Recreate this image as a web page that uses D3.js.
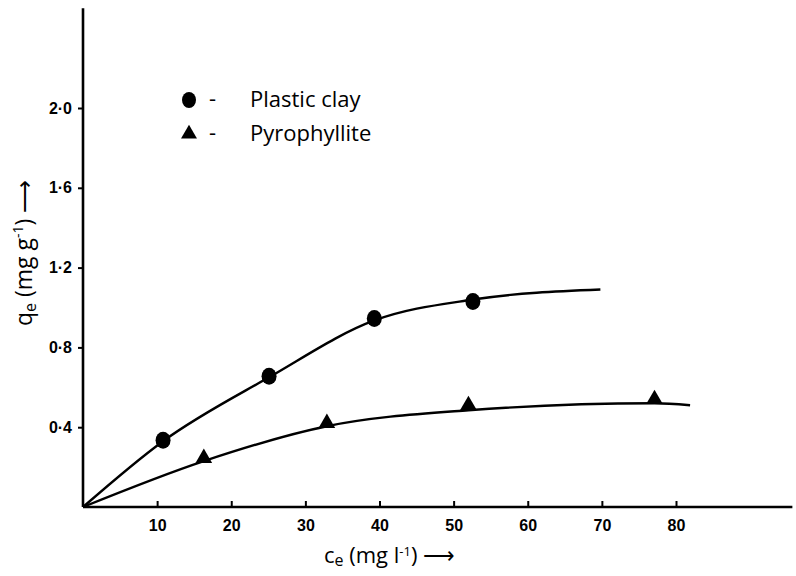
<!DOCTYPE html>
<html>
<head>
<meta charset="utf-8">
<script src="https://cdn.jsdelivr.net/npm/d3@7"></script>
<style>
  body { margin: 0; background: #fff; }
  svg { display: block; font-family: "Open Sans", sans-serif; }
</style>
</head>
<body>
<div id="chart"></div>
<script>
// measured points (Ce, qe)
const clayPoints = [[10.8, 0.335], [25.1, 0.655], [39.3, 0.945], [52.6, 1.03]];
const pyroPoints = [[16.3, 0.245], [32.9, 0.42], [52.0, 0.51], [77.1, 0.54]];
// hand-drawn fitted curves
const clayCurve = [[0, 0], [10.8, 0.33], [25.1, 0.65], [39.3, 0.935], [52.6, 1.04], [69.8, 1.09]];
const pyroCurve = [[0, 0], [16.3, 0.23], [32.9, 0.405], [52.0, 0.485], [77.1, 0.52], [81.9, 0.51]];
const xTicks = [10, 20, 30, 40, 50, 60, 70, 80];
const yTicks = [0.4, 0.8, 1.2, 1.6, 2.0];
const legendItems = [
  { name: 'Plastic clay', symbol: 'circle' },
  { name: 'Pyrophyllite', symbol: 'triangle' }
];

const width = 796;
const height = 576;
const svg = d3.select('#chart').append('svg')
  .attr('width', width)
  .attr('height', height);

const xScale = d3.scaleLinear().domain([0, 80]).range([83, 676]);
const yScale = d3.scaleLinear().domain([0, 2.0]).range([507, 108]);

// axis lines extend past the last tick
svg.append('line')
  .attr('x1', xScale(0)).attr('x2', xScale(95.7))
  .attr('y1', yScale(0)).attr('y2', yScale(0))
  .attr('stroke', '#000').attr('stroke-width', 2.6);
svg.append('line')
  .attr('x1', xScale(0)).attr('x2', xScale(0))
  .attr('y1', yScale(0)).attr('y2', yScale(2.5))
  .attr('stroke', '#000').attr('stroke-width', 2.6);

const xAxis = d3.axisBottom(xScale)
  .tickValues(xTicks)
  .tickSizeInner(-6)
  .tickSizeOuter(0)
  .tickPadding(13)
  .tickFormat(d3.format('d'));
const xAxisG = svg.append('g')
  .attr('transform', `translate(0,${yScale(0)})`)
  .call(xAxis);
xAxisG.select('.domain').remove();
xAxisG.selectAll('line').attr('stroke-width', 2);
xAxisG.selectAll('text').attr('font-size', 16).attr('font-weight', 600).attr('fill', '#000');

const yAxis = d3.axisLeft(yScale)
  .tickValues(yTicks)
  .tickSizeInner(5)
  .tickSizeOuter(0)
  .tickPadding(6)
  .tickFormat(d => d3.format('.1f')(d).replace('.', '·'));
const yAxisG = svg.append('g')
  .attr('transform', `translate(${xScale(0)},0)`)
  .call(yAxis);
yAxisG.select('.domain').remove();
yAxisG.selectAll('line').attr('stroke-width', 2);
yAxisG.selectAll('text').attr('font-size', 16).attr('font-weight', 600).attr('fill', '#000');

// curves
const line = d3.line()
  .x(d => xScale(d[0]))
  .y(d => yScale(d[1]))
  .curve(d3.curveMonotoneX);
[clayCurve, pyroCurve].forEach(c => {
  svg.append('path')
    .attr('d', line(c))
    .attr('fill', 'none')
    .attr('stroke', '#000')
    .attr('stroke-width', 2.4);
});

// markers
svg.selectAll('.clay')
  .data(clayPoints)
  .join('ellipse').attr('class', 'clay')
  .attr('cx', d => xScale(d[0]))
  .attr('cy', d => yScale(d[1]))
  .attr('rx', 7.5).attr('ry', 8.5)
  .attr('fill', '#000');
const tri = d3.symbol().type(d3.symbolTriangle).size(120);
svg.selectAll('.pyro')
  .data(pyroPoints)
  .join('path').attr('class', 'pyro')
  .attr('d', tri)
  .attr('transform', d => `translate(${xScale(d[0])},${yScale(d[1])})`)
  .attr('fill', '#000');

// legend
const legend = svg.append('g').attr('transform', 'translate(189,100)');
legendItems.forEach((s, i) => {
  const row = legend.append('g').attr('transform', `translate(0,${i * 34})`);
  if (s.symbol === 'circle') {
    row.append('ellipse').attr('rx', 7).attr('ry', 8).attr('fill', '#000');
  } else {
    row.append('path').attr('d', d3.symbol().type(d3.symbolTriangle).size(110)).attr('fill', '#000');
  }
  row.append('text')
    .attr('x', 20).attr('y', 6)
    .attr('font-size', 22)
    .text('-');
  row.append('text')
    .attr('x', 61).attr('y', 7)
    .attr('font-size', 22)
    .text(s.name);
});

// axis titles
const yTitle = svg.append('text')
  .attr('transform', 'translate(32,326) rotate(-90)')
  .attr('font-size', 23)
  .attr('text-anchor', 'start');
yTitle.append('tspan').text('q');
yTitle.append('tspan').attr('font-size', 16).attr('dy', 4).text('e');
yTitle.append('tspan').attr('dy', -4).text(' (mg g');
yTitle.append('tspan').attr('font-size', 14).attr('dy', -9).text('-1');
yTitle.append('tspan').attr('dy', 9).text(')   ⟶');

const xTitle = svg.append('text')
  .attr('x', 324).attr('y', 563)
  .attr('font-size', 22);
xTitle.append('tspan').text('c');
xTitle.append('tspan').attr('font-size', 16).attr('dy', 3).text('e');
xTitle.append('tspan').attr('dy', -3).text(' (mg l');
xTitle.append('tspan').attr('font-size', 13).attr('dy', -7).text('-1');
xTitle.append('tspan').attr('dy', 7).text(')    ⟶');
</script>
</body>
</html>
